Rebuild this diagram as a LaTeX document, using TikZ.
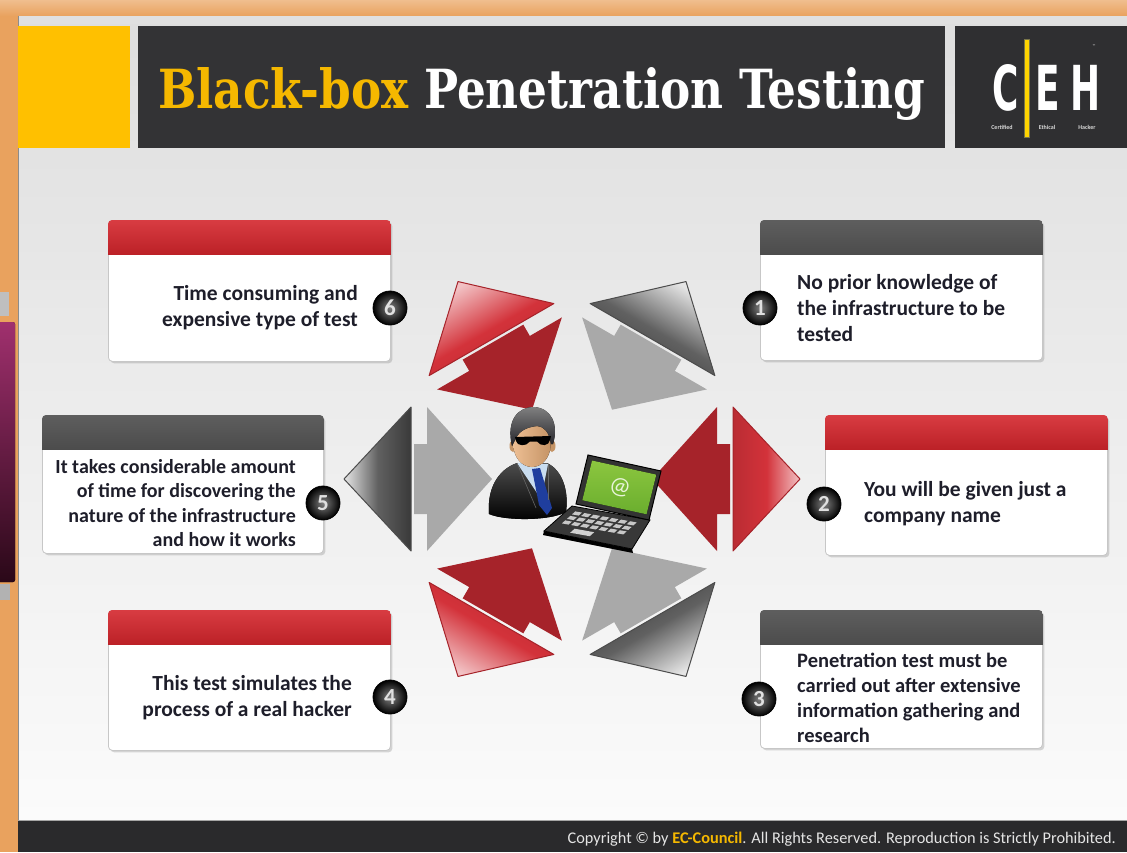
\documentclass[tikz,border=0pt]{standalone}
\usepackage{fontspec}
\setmainfont{Carlito}
\newfontfamily\titlefont{DejaVu Serif}
\newfontfamily\logofont{DejaVu Sans}
\usetikzlibrary{calc,shadows}

\definecolor{frameorange}{HTML}{E9A25E}
\definecolor{slidetop}{HTML}{DEDEDE}
\definecolor{slidebot}{HTML}{FBFBFB}
\definecolor{squareyellow}{HTML}{FFC000}
\definecolor{titleyellow}{HTML}{F5B800}
\definecolor{headdark}{HTML}{333335}
\definecolor{footdark}{HTML}{2A2A2C}
\definecolor{headredtop}{HTML}{D83C42}
\definecolor{headredbot}{HTML}{BC2127}
\definecolor{headgraytop}{HTML}{5E5E5E}
\definecolor{headgraybot}{HTML}{4C4C4C}
\definecolor{arrowred}{HTML}{D3323A}
\definecolor{arrowdarkred}{HTML}{A6232A}
\definecolor{arrowlightgray}{HTML}{A9A9A9}
\definecolor{arrowdarkgray}{HTML}{484848}
\definecolor{textdark}{HTML}{1E1E2A}
\definecolor{skin}{HTML}{E8AE78}
\definecolor{shirtblue}{HTML}{C9DDF0}
\definecolor{tieblue}{HTML}{1F3E9E}
\definecolor{hairdark}{HTML}{24242A}
\definecolor{screengreen}{HTML}{8CC63F}
\definecolor{screengreendark}{HTML}{6AAE2E}
\definecolor{logoyellow}{HTML}{FFD400}
\definecolor{purpletop}{HTML}{A0306E}
\definecolor{purplebot}{HTML}{2A0818}

\tikzset{
  boxbody/.style={rectangle, inner sep=0pt, fill=white, draw=black!22, line width=0.8pt,
    rounded corners=4pt, drop shadow={opacity=0.3, shadow xshift=2pt, shadow yshift=-2pt}},
  headred/.style={top color=headredtop, bottom color=headredbot},
  headgray/.style={top color=headgraytop, bottom color=headgraybot},
  boxtext/.style args={#1/#2}{inner sep=0pt, text=textdark,
    font=\bfseries\fontsize{#1}{#2}\selectfont},
  numball/.style={circle, inner sep=0pt, minimum size=34pt, inner color=black!50,
    outer color=black, draw=black, line width=0.8pt,
    text=white!88!black, font=\bfseries\fontsize{23}{23}\selectfont},
  outerred/.style={top color=arrowred!30!white, bottom color=arrowred!88!black,
    middle color=arrowred, shading angle=#1, draw=arrowdarkred, line width=1pt,
    line join=round},
  outergray/.style={top color=black!10, bottom color=arrowdarkgray!80!black,
    middle color=black!62, shading angle=#1, draw=black!70, line width=1pt,
    line join=round},
  innerred/.style={fill=arrowdarkred},
  innergray/.style={fill=arrowlightgray},
  logoletter/.style={inner sep=0pt, text=white,
    font=\logofont\bfseries\fontsize{31}{31}\selectfont},
  logosmall/.style={inner sep=0pt, text=white!85!black,
    font=\bfseries\fontsize{6}{6}\selectfont},
}

% one text panel: name, left x, top y, width, height, header style
\newcommand\infopanel[6]{%
  \node[boxbody, minimum width=#4pt, minimum height=#5pt, anchor=north west] (#1) at (#2,#3) {};
  \begin{scope}
    \clip[rounded corners=4pt] (#1.north west) rectangle (#1.south east);
    \path[#6] (#1.north west) rectangle ($(#1.north east)+(0,34)$);
  \end{scope}
}

% the two pieces of one ring segment, pointing along the given angle
\newcommand\outertri[2]{%
  \path[#2] (#1:228) -- ($(#1:161)+(#1+90:72)$) -- ($(#1:161)+(#1-90:72)$) -- cycle;
}
\newcommand\innerarrow[2]{%
  \path[#2] (#1:80) -- ($(#1:145)+(#1+90:72)$) -- ($(#1:145)+(#1+90:35)$)
    -- ($(#1:158)+(#1+90:35)$) -- ($(#1:158)+(#1-90:35)$)
    -- ($(#1:145)+(#1-90:35)$) -- ($(#1:145)+(#1-90:72)$) -- cycle;
}

\begin{document}
\begin{tikzpicture}[x=1pt,y=-1pt]
\useasboundingbox (0,0) rectangle (1127,852);

% frame and slide background
\fill[frameorange] (0,0) rectangle (1127,852);
\fill[top color=frameorange!70!white, bottom color=frameorange] (0,0) rectangle (1127,16);
\fill[black!25] (0,292) rectangle (9,316);
\fill[top color=purpletop, bottom color=purplebot, rounded corners=2pt]
  (-3,322) rectangle (15,582);
\fill[black!30] (0,584) rectangle (10,600);
\fill[top color=slidetop, bottom color=slidebot] (18,16) rectangle (1127,820);
\fill[black!12] (18,16) rectangle (1127,24);
\draw[black!45, line width=1pt] (18,16) -- (18,820);

% title band
\fill[squareyellow] (18,26) rectangle (130,148);
\fill[headdark] (138,26) rectangle (945,148);
\node[inner sep=0pt, anchor=base west, text=white, font=\titlefont\bfseries\fontsize{50}{50}\selectfont]
  (title) at (158,108) {\resizebox{767pt}{41pt}{\textcolor{titleyellow}{Black-box} Penetration Testing}};

% logo
\fill[headdark!92!black] (955,26) rectangle (1127,148);
\node[logoletter, anchor=base] (logoC) at (1006,110) {\scalebox{1.16}[2]{C}};
\node[logoletter, anchor=base] (logoE) at (1048,110) {\scalebox{1.16}[2]{E}};
\node[logoletter, anchor=base] (logoH) at (1086,110) {\scalebox{1.16}[2]{H}};
\fill[logoyellow, draw=black!60!yellow, line width=0.4pt] (1024,39) rectangle (1029,137);
\node[logosmall] (logoCert) at (1002,127) {Certified};
\node[logosmall] (logoEth) at (1047,127) {Ethical};
\node[logosmall] (logoHack) at (1087,127) {Hacker};
\node[logosmall, font=\fontsize{4}{4}\selectfont] (logoTM) at (1094,46) {\texttrademark};

% footer
\fill[footdark] (18,820) rectangle (1127,852);
\draw[black!35, line width=1pt] (18,820) -- (1127,820);
\node[inner sep=0pt, anchor=base east, text=white!90!black, font=\fontsize{16.3}{17}\selectfont]
  (copyright) at (1116,843)
  {Copyright © by {\color{titleyellow}\bfseries EC-Council}. All Rights Reserved. Reproduction is Strictly Prohibited.};

% arrow ring around the centre
\begin{scope}[shift={(572,479)}, y=1pt]
  \foreach \a in {0,120,240}{
    \pgfmathsetmacro\sa{\a-90}
    \outertri{\a}{outerred=\sa}
    \innerarrow{\a}{innerred}
  }
  \foreach \a in {60,180,300}{
    \pgfmathsetmacro\sa{\a-90}
    \outertri{\a}{outergray=\sa}
    \innerarrow{\a}{innergray}
  }
\end{scope}

% the hacker figure
\fill[top color=black!70, bottom color=black] (489,514) .. controls (487,490) and (497,470) .. (517,463)
  -- (547,463) .. controls (562,470) and (569,490) .. (566,512)
  .. controls (550,521) and (505,521) .. cycle;
\fill[skin!80!black] (523,455) rectangle (543,467);
\fill[shirtblue] (517,463) -- (548,464) -- (541,499) -- cycle;
\fill[tieblue] (532,469) -- (540,468) -- (552,508) -- (547,515) -- (539,505) -- cycle;
\draw[black!60, line width=0.6pt] (517,463) -- (536,508);
\draw[black!60, line width=0.6pt] (548,464) -- (548,500);
\fill[skin!85!black] (513,446) ellipse (3.5 and 6);
\fill[skin!85!black] (552,446) ellipse (3.5 and 6);
\fill[left color=skin!80!white, right color=skin!85!black] (532,445) ellipse (18.5 and 22);
\fill[top color=black!50, bottom color=hairdark] (512,446) .. controls (506,420) and (518,407) .. (534,407)
  .. controls (551,408) and (559,424) .. (553,444)
  -- (551,444) .. controls (549,432) and (545,427) .. (537,426)
  .. controls (528,427) and (520,430) .. (516,438) -- cycle;
\fill[black] (515,437) -- (551,436) -- (550,440) .. controls (549,446) and (541,447) .. (537,441.5)
  -- (530,441.5) .. controls (526,447) and (517,446) .. (516,441) -- cycle;

% the laptop: keyboard deck
\fill[black] (544,531) -- (632,549) -- (633,553) -- (543,535) -- cycle;
\fill[black!78, draw=black, line width=0.8pt] (572,506) -- (650,520) -- (632,549) -- (544,531) -- cycle;
\begin{scope}[shift={(572,506)}, x={(78pt,-14pt)}, y={(-28pt,-25pt)}]
  \foreach \r in {0,1,2}{
    \foreach \c in {0,...,6}{
      \fill[black!22] (0.1+\c*0.117,0.16+\r*0.18) -- ++(0.085,0) -- ++(0,0.12) -- ++(-0.085,0) -- cycle;
    }
  }
  \fill[black!18] (0.3,0.74) -- (0.55,0.74) -- (0.55,0.9) -- (0.3,0.9) -- cycle;
\end{scope}
% the laptop: screen
\begin{scope}[shift={(588,455)}, x={(73pt,-16pt)}, y={(-12pt,-49pt)}]
  \fill[black!80, draw=black, line width=1pt] (0,0) -- (1,0) -- (1,1) -- (0,1) -- cycle;
  \fill[top color=screengreen, bottom color=screengreendark] (0.07,0.09) -- (0.95,0.09) -- (0.95,0.9) -- (0.07,0.9) -- cycle;
  \node[inner sep=0pt, rotate=-12, text=white!80!screengreen, font=\fontsize{24}{24}\selectfont] (at) at (0.52,0.5) {@};
\end{scope}

% text panels
\infopanel{b6}{108}{220}{282}{141}{headred}
\infopanel{b1}{760}{220}{282}{140}{headgray}
\infopanel{b5}{42}{415}{281}{138}{headgray}
\infopanel{b2}{825}{415}{282}{140}{headred}
\infopanel{b4}{108}{610}{282}{140}{headred}
\infopanel{b3}{760}{610}{282}{138}{headgray}

\node[boxtext=21.5/26, anchor=east, align=right] (t6) at (358,308) {Time consuming and\\expensive type of test};
\node[boxtext=21.5/26, anchor=west, align=left] (t1) at (797,308) {No prior knowledge of\\the infrastructure to be\\tested};
\node[boxtext=20/24.3, anchor=east, align=right] (t5) at (296,503) {It takes considerable amount\\of time for discovering the\\nature of the infrastructure\\and how it works};
\node[boxtext=21.5/26, anchor=west, align=left] (t2) at (864,504) {You will be given just a\\company name};
\node[boxtext=21.5/26, anchor=east, align=right] (t4) at (352,698) {This test simulates the\\process of a real hacker};
\node[boxtext=20.5/25, anchor=west, align=left] (t3) at (797,698) {Penetration test must be\\carried out after extensive\\information gathering and\\research};

\node[numball] (n6) at (390,308) {6};
\node[numball] (n1) at (760,308) {1};
\node[numball] (n5) at (323,503) {5};
\node[numball] (n2) at (824,504) {2};
\node[numball] (n4) at (390,697) {4};
\node[numball] (n3) at (759,699) {3};
\end{tikzpicture}
\end{document}
